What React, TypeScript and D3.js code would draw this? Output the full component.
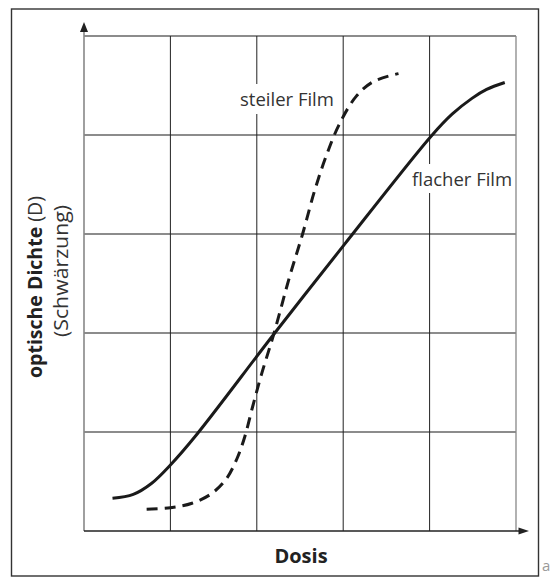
import * as d3 from "d3";

const WIDTH = 552;
const HEIGHT = 577;
const PLOT = { left: 84, right: 516, top: 36, bottom: 531 };

// grid in "cell" units, 5 x 5 cells
const gridCells = [0, 1, 2, 3, 4, 5];

// flat film curve (solid)
const flatX = [0.33, 0.57, 0.78, 1.0, 1.3, 2.19, 3.01, 4.02, 4.26, 4.49, 4.66, 4.87];
const flatY = [0.33, 0.37, 0.48, 0.667, 0.97, 1.98, 2.89, 3.99, 4.21, 4.37, 4.46, 4.53];

// steep film curve (dashed)
const steepX = [0.725, 1.0, 1.25, 1.48, 1.65, 1.77, 1.86, 1.95, 2.05, 2.2, 2.38, 2.53, 2.67, 2.8, 2.95, 3.15, 3.35, 3.64];
const steepY = [0.22, 0.235, 0.28, 0.38, 0.53, 0.73, 0.95, 1.25, 1.57, 2.0, 2.57, 3.0, 3.44, 3.78, 4.1, 4.39, 4.54, 4.62];

const labelSteep = "steiler Film";
const labelFlat = "flacher Film";
const labelX = "Dosis";
const labelYBold = "optische Dichte";
const labelYUnit = " (D)";
const labelYSub = "(Schwärzung)";
const cornerMark = "a";

const FONT = "'Open Sans', 'Noto Sans', sans-serif";

export default function App() {
  const xScale = d3.scaleLinear().domain([0, 5]).range([PLOT.left, PLOT.right]);
  const yScale = d3.scaleLinear().domain([0, 5]).range([PLOT.bottom, PLOT.top]);

  const line = d3
    .line<[number, number]>()
    .x((d) => xScale(d[0]))
    .y((d) => yScale(d[1]))
    .curve(d3.curveCatmullRom.alpha(0.5));

  const flatPts = flatX.map((x, i) => [x, flatY[i]] as [number, number]);
  const steepPts = steepX.map((x, i) => [x, steepY[i]] as [number, number]);

  return (
    <svg
      width={WIDTH}
      height={HEIGHT}
      style={{ position: "absolute", left: 0, top: 0, background: "#fff" }}
    >
      {/* outer frame */}
      <rect x={11.5} y={9} width={527} height={567} fill="none" stroke="#333" strokeWidth={1.4} />

      {/* horizontal grid */}
      {gridCells.slice(1).map((c) => (
        <line
          key={"h" + c}
          x1={PLOT.left}
          x2={PLOT.right}
          y1={yScale(c)}
          y2={yScale(c)}
          stroke="#666"
          strokeWidth={1.3}
        />
      ))}
      {/* vertical grid */}
      {gridCells.slice(1, -1).map((c) => (
        <line
          key={"v" + c}
          x1={xScale(c)}
          x2={xScale(c)}
          y1={PLOT.top}
          y2={PLOT.bottom}
          stroke="#222"
          strokeWidth={1}
        />
      ))}
      <line x1={xScale(5)} x2={xScale(5)} y1={PLOT.top} y2={PLOT.bottom} stroke="#888" strokeWidth={1.3} />

      {/* axes */}
      <line x1={PLOT.left} x2={PLOT.left} y1={PLOT.bottom} y2={30} stroke="#888" strokeWidth={1.6} />
      <path d={`M${PLOT.left},22 L${PLOT.left + 4},32 L${PLOT.left - 4},32 Z`} fill="#222" />
      <line x1={PLOT.left} x2={520} y1={PLOT.bottom} y2={PLOT.bottom} stroke="#222" strokeWidth={1.4} />
      <path d={`M529,${PLOT.bottom} L518.5,${PLOT.bottom - 3.5} L518.5,${PLOT.bottom + 3.5} Z`} fill="#222" />

      {/* label knock-outs */}
      <rect x={238} y={84} width={96} height={30} fill="#fff" />
      <rect x={410} y={164} width={102} height={29} fill="#fff" />

      {/* curves */}
      <path d={line(flatPts) ?? ""} fill="none" stroke="#1a1a1a" strokeWidth={3} />
      <path
        d={line(steepPts) ?? ""}
        fill="none"
        stroke="#1a1a1a"
        strokeWidth={3}
        strokeDasharray="11 7"
      />

      {/* labels */}
      <text x={240} y={106} fontFamily={FONT} fontSize={18.5} fill="#333">
        {labelSteep}
      </text>
      <text x={412} y={186} fontFamily={FONT} fontSize={18.5} fill="#333">
        {labelFlat}
      </text>
      <text x={301} y={563} fontFamily={FONT} fontWeight={700} fontSize={20} fill="#222" textAnchor="middle">
        {labelX}
      </text>
      <g transform="translate(42,378) rotate(-90)">
        <text x={0} y={0} fontFamily={FONT} fontSize={19.5} fill="#222">
          <tspan fontWeight={700}>{labelYBold}</tspan>
          <tspan fill="#333">{labelYUnit}</tspan>
        </text>
      </g>
      <g transform="translate(68,337) rotate(-90)">
        <text x={0} y={0} fontFamily={FONT} fontSize={19.5} fill="#333" textLength={132} lengthAdjust="spacingAndGlyphs">
          {labelYSub}
        </text>
      </g>
      <text x={542} y={571} fontFamily={FONT} fontSize={15} fill="#999">
        {cornerMark}
      </text>
    </svg>
  );
}
